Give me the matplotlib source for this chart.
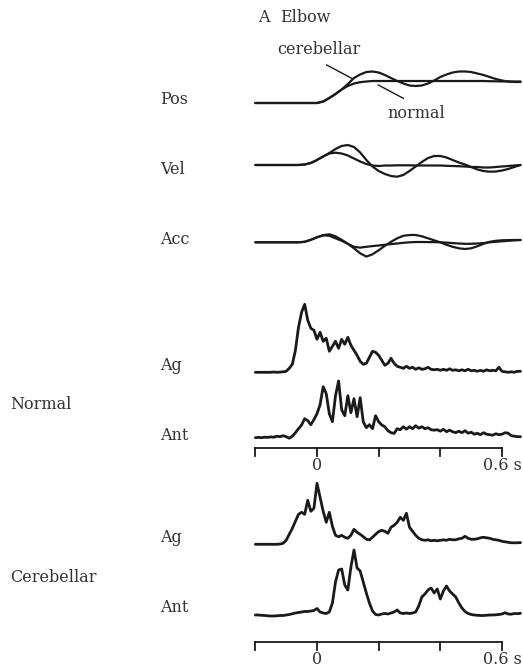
import numpy as np
import matplotlib
matplotlib.use("Agg")
import matplotlib.pyplot as plt

# ---------------- data ----------------
# kinematic traces, time in s (0.02 s steps), amplitude in arbitrary units
t_kin = np.round(np.arange(-0.20, 0.661, 0.02), 3)

pos_normal = [0]*11 + [1.5, 5, 9, 13.5, 17, 19.5, 20.8, 21.5, 22, 22, 22, 22, 22, 22, 22, 22,
                       22, 22, 22, 22, 22, 22, 22, 22, 22, 22, 22, 21.8, 21.7, 21.6, 21.5, 21.5, 21.5]
pos_cereb = [0]*11 + [1.5, 5, 9, 13.5, 19, 25, 28.5, 31, 31.5, 30.5, 28, 25, 22, 19.5, 17.5, 17,
                      17.5, 19.5, 22.5, 26, 28.5, 30.5, 31.5, 31.5, 31, 29.5, 28, 26, 24, 22.5, 21.5, 21, 21]

vel_normal = [0]*8 + [0.5, 2, 5, 8.5, 11.5, 12.3, 11.5, 9.5, 6.5, 3.5, 1, -0.5, -1, -0.5, -0.5,
                      -0.3, -0.3, -0.3, -0.5, -0.5, -0.5, -0.5, -0.5, -0.8, -1, -1.2, -1.5, -2, -2,
                      -2.5, -2.5, -2, -1.5, -1, -0.5, 0]
vel_cereb = [0]*8 + [0.5, 2, 5, 8.5, 12, 16, 19, 20, 18, 12.5, 5, -1.5, -6, -9, -11, -11.7, -10,
                     -6, -1.5, 3, 7, 9, 9, 7.5, 5, 2.5, 0.5, -2, -4.5, -6, -6.7, -6.5, -5.5, -4, -2, 0]

acc_normal = [0]*8 + [0.5, 2.5, 5, 7, 6.5, 4, 1.5, -1.5, -4.5, -5.3, -4.5, -3.8, -3.2, -2.5, -1.8,
                      -1.2, -0.5, 0, 0.3, 0.3, 0.2, 0.2, 0, -0.3, -0.8, -1.2, -1.5, -1.5, -1.2, -0.8,
                      0, 0.5, 1, 1.5, 2, 2.3]
acc_cereb = [0]*8 + [0.5, 2.5, 5, 7.2, 8, 6, 2.5, -1.5, -6, -11, -14.3, -12, -8, -3.5, 0.5, 4,
                     6.5, 7.3, 7.3, 6, 4, 2, 0, -2.5, -4.5, -6, -6.7, -6, -4, -1.5, 0.5, 1.5, 2, 2.2,
                     2.3, 2.3]

# EMG traces, time in s (0.01 s steps)
t_emg = np.round(np.arange(-0.20, 0.661, 0.01), 3)

normal_ag = [0, 0, 0, 0, 0, 0, 0.3, 0, 0.2, 0.5, 1, 4, 8, 22, 45, 60, 68, 52, 44, 42, 33, 40,
             31, 34, 21, 26, 31, 24, 33, 28, 35, 27, 22, 17, 11, 8, 9, 15, 21, 20, 17, 12, 7, 9,
             14, 9, 6, 5, 4, 6, 4, 5, 3, 4.5, 3, 3.5, 5, 3, 2.5, 3, 2, 3, 2, 3.5, 2, 2.5, 1.5,
             2.5, 1.5, 3, 1.5, 2, 1, 2, 1, 2.5, 1.5, 2, 1.5, 5, 1, 0.5, 0, 0.5, 0, 1, 1]
normal_ant = [0, 0.3, 0, 0.5, 0.3, 0.8, 0.5, 1.5, 1, 2, 1, -0.5, 1.5, 5, 9, 12.7, 19, 17, 13,
              18, 24, 33, 51, 44, 24, 16, 42, 56.7, 28, 22, 42, 25, 39, 21, 40, 16, 10, 13, 9,
              22, 16, 12.7, 11, 7, 5, 4.3, 9, 8, 11, 8.5, 11, 9, 12, 9.5, 11, 9, 10, 8, 7.5, 8,
              6.5, 8.5, 6, 7.5, 6, 5, 6.5, 5, 7, 4.5, 5.5, 3.5, 4.5, 3, 5, 3.5, 3, 2.5, 4, 3,
              3.5, 5, 4.5, 2, 1.5, 1, 1]
cereb_ag = [0, 0, 0, 0, 0, 0, 0, 0, 0.3, 1, 4, 10, 16, 23, 30, 32, 30, 44, 33, 36, 61, 47, 33,
            22, 32, 18, 9, 7.5, 9, 7, 6, 9, 15, 12, 10, 7.7, 5, 4.5, 7, 10, 12.7, 14, 13, 11, 17,
            19, 22, 27, 24, 31, 17, 13, 9, 6, 4.5, 4, 4.5, 3.5, 4, 3.5, 4, 4.5, 4, 5, 4.5, 4.5,
            5.5, 6, 8, 6, 5, 5, 5.5, 6.5, 7, 6.5, 6, 5, 4.5, 4, 3, 2.5, 2, 1.5, 1.5, 1.5, 1.7]
cereb_ant = [0, 0, -0.3, -0.5, -0.8, -1, -1, -0.8, -0.5, -0.5, 0, 0.5, 1.2, 2, 2.5, 3, 3.5, 3.5,
             4, 4.5, 6.5, 3, 2, 1.5, 3, 12, 33, 45, 46, 30, 25, 48, 65, 47, 44, 33, 22, 12, 4,
             0.5, 0, 1, 1.5, 1, 2, 3, 5, 2, 1.5, 2, 1.5, 2, 3, 9, 18, 21, 25, 27, 22, 26, 16, 24,
             29, 24, 21, 18, 12, 7, 3.5, 1.5, 0.5, 0, -0.3, -0.5, -0.5, -0.3, 0, 0, 0.2, 0.5, 1,
             2.3, 1, 0.8, 1.5, 1.3, 1.7]

scale_ticks = [-0.2, 0.0, 0.2, 0.4, 0.6]
scale_labels = ["", "0", "", "", "0.6 s"]

row_labels = ["Pos", "Vel", "Acc", "Ag", "Ant", "Ag", "Ant"]
group_labels = ["Normal", "Cerebellar"]

# ---------------- layout ----------------
W, H = 523, 671
fig = plt.figure(figsize=(W / 100, H / 100), dpi=100)
ax = fig.add_axes([0, 0, 1, 1])
px_per_s = 185 / 0.6
x0 = 317
ax.set_xlim(-x0 / px_per_s, (W - x0) / px_per_s)
ax.set_ylim(H, 0)
ax.axis("off")

font = "DejaVu Serif"
fs = 11.5
col = "#1a1a1a"
tcol = "#333333"

def trace(t, v, base, lw=1.6):
    ax.plot(t, base - np.asarray(v, float), color=col, lw=lw, solid_joinstyle="round",
            solid_capstyle="round")

# kinematics
trace(t_kin, pos_normal, 103, 1.6)
trace(t_kin, pos_cereb, 103, 1.6)
trace(t_kin, vel_normal, 165, 1.6)
trace(t_kin, vel_cereb, 165, 1.6)
trace(t_kin, acc_normal, 242.3, 1.6)
trace(t_kin, acc_cereb, 242.3, 1.6)

# EMG
trace(t_emg, normal_ag, 372.3, 2.0)
trace(t_emg, normal_ant, 437.7, 2.0)
trace(t_emg, cereb_ag, 544.3, 2.0)
trace(t_emg, cereb_ant, 615, 2.0)

# time scale bars
for ybar, ylab in [(448.3, 466), (641.7, 660)]:
    ax.plot([scale_ticks[0], scale_ticks[-1]], [ybar, ybar], color=col, lw=1.3)
    for tk, lab in zip(scale_ticks, scale_labels):
        ax.plot([tk, tk], [ybar, ybar + 8], color=col, lw=1.3)
        if lab:
            ax.text(tk, ylab, lab, ha="center", va="center", fontsize=fs, family=font, color=tcol)

def ftext(xp, yp, s, **kw):
    ax.text(xp / W, 1 - yp / H, s, transform=ax.transAxes, fontsize=fs, family=font,
            color=tcol, va="center", **kw)

ftext(258, 18, "A")
ftext(280, 18, "Elbow")
ftext(277, 50, "cerebellar")
ftext(387, 113, "normal")

# leader lines
def tx(px):
    return (px - x0) / px_per_s
ax.plot([tx(326.7), tx(351.7)], [65, 78.3], color=col, lw=1.0)
ax.plot([tx(378.3), tx(403.3)], [85, 98.3], color=col, lw=1.0)

for lab, yp in zip(row_labels, [100, 170, 240, 365, 435, 538, 608]):
    ftext(160, yp, lab)
ftext(10, 405, group_labels[0])
ftext(10, 578, group_labels[1])

fig.savefig("out.png", dpi=100, facecolor="white")
